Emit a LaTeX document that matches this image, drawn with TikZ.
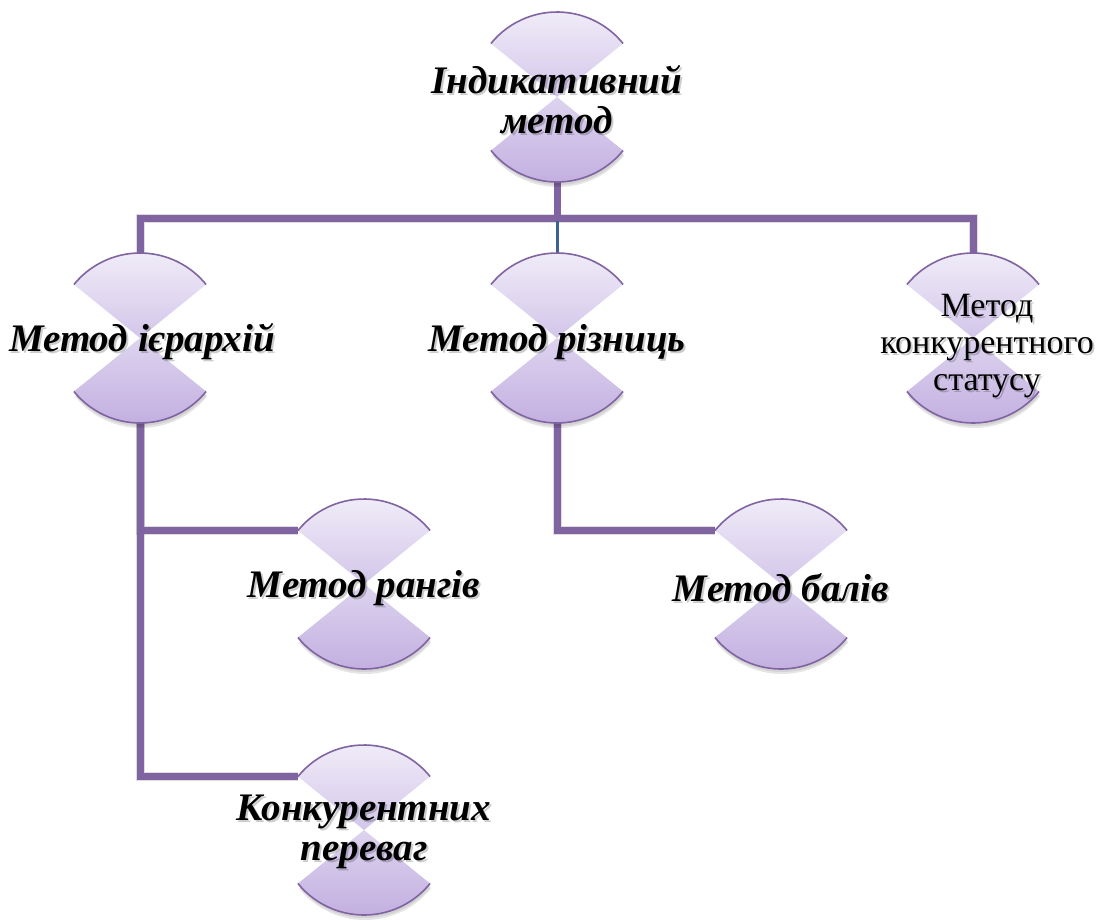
\documentclass[tikz,border=0pt]{standalone}
\usepackage{fontspec}
\setmainfont{Liberation Serif}
\usetikzlibrary{calc}
\definecolor{acc}{HTML}{8064A2}
\definecolor{linkblue}{HTML}{3A6394}
\definecolor{topA}{HTML}{F1EDF8}
\definecolor{topB}{HTML}{D3C6EA}
\definecolor{botA}{HTML}{DDD4EF}
\definecolor{botB}{HTML}{C2AEE0}
\newcommand\hgcoords[3]{%
  \coordinate (#1) at (#2,#3);
  \coordinate (#1-top) at ($(#1)+(0,-85)$);
  \coordinate (#1-bot) at ($(#1)+(0,85)$);
  \coordinate (#1-tl) at ($(#1)+(-66,-53.5)$);
}
\newcommand\hgdraw[1]{%
  \fill[black,opacity=0.10] ($(#1)+(1,5)$) -- ++(141:85) arc (141:39:85) -- cycle;
  \fill[black,opacity=0.08] ($(#1)+(1,3)$) -- ++(141:85) arc (141:39:85) -- cycle;
  \shade[top color=topA, bottom color=topB] (#1) -- ++(-141:85) arc (-141:-39:85) -- cycle;
  \shade[top color=botA, bottom color=botB] (#1) -- ++(141:85) arc (141:39:85) -- cycle;
  \draw[acc, line width=1.6] ($(#1)+(-141:85)$) arc (-141:-39:85);
  \draw[acc, line width=1.6] ($(#1)+(141:85)$) arc (141:39:85);
}
\tikzset{
  conn/.style={acc, line width=7, line join=miter},
  connshadow/.style={black, opacity=0.13, line width=9, line join=miter},
  thinconn/.style={linkblue, line width=3},
  lbl/.style={align=center, inner sep=0pt, font=\fontsize{39}{40}\selectfont\bfseries\itshape},
  lblplain/.style={align=center, inner sep=0pt, font=\fontsize{34}{37}\selectfont},
  lblshadow/.style={text=black, opacity=0.2},
}
\begin{document}
\begin{tikzpicture}[x=1pt,y=-1pt]
\useasboundingbox (0,0) rectangle (1103,919);
\hgcoords{root}{557}{97}
\hgcoords{hier}{140}{338}
\hgcoords{diff}{557}{338}
\hgcoords{stat}{973}{338}
\hgcoords{rank}{364}{584}
\hgcoords{bal}{781}{584}
\hgcoords{adv}{364}{830}
\coordinate (bar) at (557,218);
% connector shadows
\begin{scope}[shift={(1,4)}]
\draw[connshadow] (hier-top) |- (bar) -| (stat-top);
\draw[connshadow] (hier-bot) |- (adv-tl);
\draw[connshadow] (hier-bot) |- (rank-tl);
\draw[connshadow] (diff-bot) |- (bal-tl);
\end{scope}
% connectors
\draw[conn] (root-bot) -- (bar);
\draw[conn] (hier-top) |- (bar) -| (stat-top);
\draw[thinconn] ($(bar)+(0,3)$) -- (diff-top);
\draw[conn] (hier-bot) |- (adv-tl);
\draw[conn] (hier-bot) |- (rank-tl);
\draw[conn] (diff-bot) |- (bal-tl);
% shapes
\hgdraw{root}
\hgdraw{hier}
\hgdraw{diff}
\hgdraw{stat}
\hgdraw{rank}
\hgdraw{bal}
\hgdraw{adv}
% labels
\node[lbl,lblshadow] at ($(root)+(2,5)$) {Індикативний\\метод};
\node[lbl] (root-t) at ($(root)+(0,3)$) {Індикативний\\метод};
\node[lbl,lblshadow] at ($(hier)+(4,6)$) {Метод ієрархій};
\node[lbl] (hier-t) at ($(hier)+(2,4)$) {Метод ієрархій};
\node[lbl,lblshadow] at ($(diff)+(2,6)$) {Метод різниць};
\node[lbl] (diff-t) at ($(diff)+(0,4)$) {Метод різниць};
\node[lblplain,lblshadow] at ($(stat)+(16,10)$) {Метод\\конкурентного\\статусу};
\node[lblplain] (stat-t) at ($(stat)+(14,8)$) {Метод\\конкурентного\\статусу};
\node[lbl,lblshadow] at ($(rank)+(2,6)$) {Метод рангів};
\node[lbl] (rank-t) at ($(rank)+(0,4)$) {Метод рангів};
\node[lbl,lblshadow] at ($(bal)+(2,6)$) {Метод балів};
\node[lbl] (bal-t) at ($(bal)+(0,4)$) {Метод балів};
\node[lbl,lblshadow] at ($(adv)+(2,4)$) {Конкурентних\\переваг};
\node[lbl] (adv-t) at ($(adv)+(0,2)$) {Конкурентних\\переваг};
\end{tikzpicture}
\end{document}
